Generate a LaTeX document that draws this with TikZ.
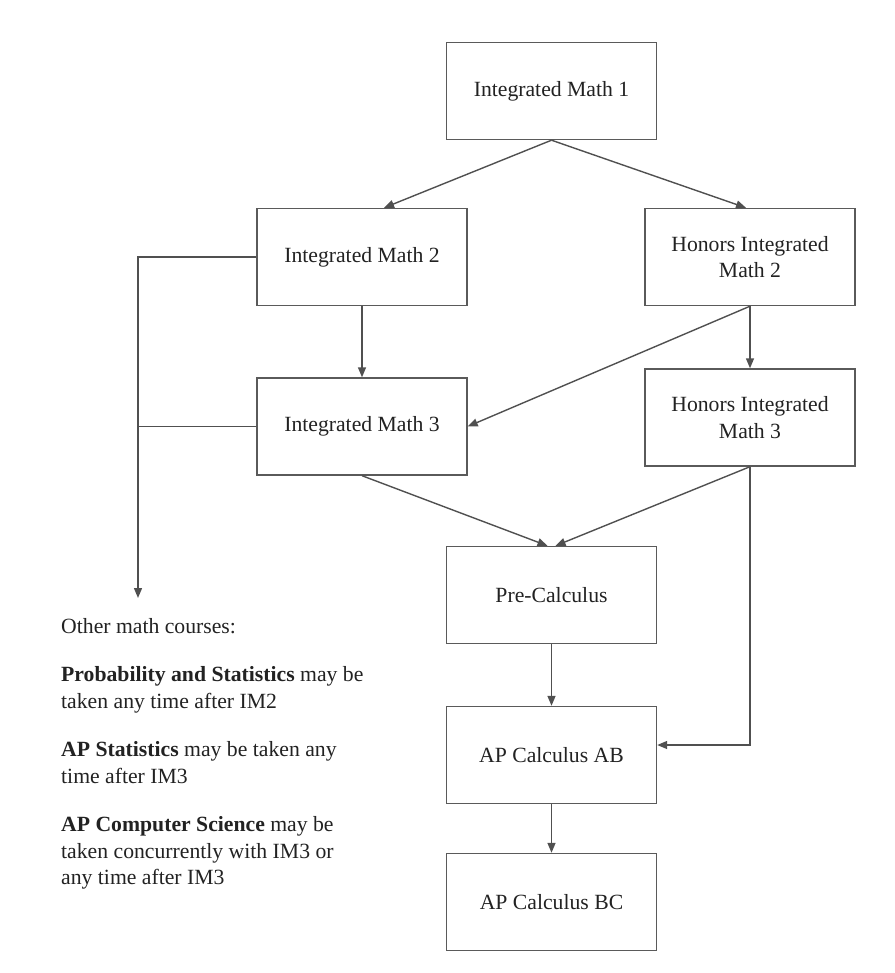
\documentclass[tikz,border=0pt]{standalone}
\usepackage{fontspec}
\setmainfont{Liberation Serif}
\usepackage{tikz}
\usetikzlibrary{calc,positioning,arrows.meta}
\definecolor{boxline}{HTML}{5A5A5A}
\definecolor{edgeline}{HTML}{505050}
\definecolor{inkdark}{HTML}{222222}
\newcommand{\coursefont}{\fontsize{21.7}{26.5}\selectfont}
\tikzset{
  course/.style={draw=boxline,line width=1.4pt,minimum width=210pt,minimum height=97pt,
    align=center,font=\coursefont,text=inkdark,inner sep=0pt},
  flow/.style={draw=edgeline,line width=1.4pt,-{Triangle[length=10pt,width=8pt]}},
  plainline/.style={draw=edgeline,line width=1.4pt},
  notes/.style={align=left,font=\coursefont,text=inkdark,inner sep=0pt,anchor=north west}
}

\begin{document}
\begin{tikzpicture}[x=1pt,y=-1pt]
  \useasboundingbox (0,0) rectangle (894,973);
  \node[course] (im1)  at (551.5,91)  {Integrated Math 1};
  \node[course] (im2)  at (362,257)   {Integrated Math 2};
  \node[course] (him2) at (750,257)   {Honors Integrated\\Math 2};
  \node[course] (im3)  at (362,426.5) {Integrated Math 3};
  \node[course] (him3) at (750,417.5) {Honors Integrated\\Math 3};
  \node[course] (pre)  at (551.5,595) {Pre-Calculus};
  \node[course] (ab)   at (551.5,755) {AP Calculus AB};
  \node[course] (bc)   at (551.5,902) {AP Calculus BC};
  \coordinate (side) at (138,598);
  \node[notes] (other) at (61,618) {Other math courses:\\[22pt]
    \textbf{Probability and Statistics} may be\\
    taken any time after IM2\\[22pt]
    \textbf{AP Statistics} may be taken any\\
    time after IM3\\[22pt]
    \textbf{AP Computer Science} may be\\
    taken concurrently with IM3 or\\
    any time after IM3};

  \draw[flow] (im1.south) -- ($(im2.north)+(22,0)$);
  \draw[flow] (im1.south) -- ($(him2.north)+(-4,0)$);
  \draw[flow] (im2.south) -- (im3.north);
  \draw[flow] (him2.south) -- (him3.north);
  \draw[flow] (him2.south) -- (im3.east);
  \draw[flow] (im3.south) -- ($(pre.north)+(-4,0)$);
  \draw[flow] (him3.south) -- ($(pre.north)+(4,0)$);
  \draw[flow] (him3.south) |- ($(ab.east)+(0,-10)$);
  \draw[flow] (pre.south) -- (ab.north);
  \draw[flow] (ab.south) -- (bc.north);
  \draw[flow] (im2.west) -| (side);
  \draw[plainline] (im3.west) -- (im3.west -| side);
\end{tikzpicture}
\end{document}
